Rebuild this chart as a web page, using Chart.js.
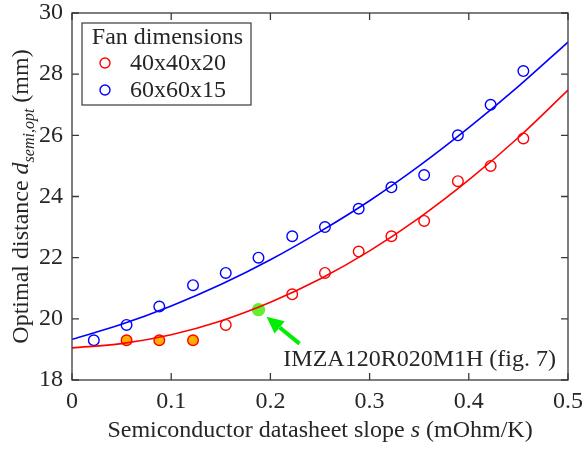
<!DOCTYPE html>
<html>
<head>
<meta charset="utf-8">
<script src="https://cdn.jsdelivr.net/npm/chart.js@4/dist/chart.umd.min.js"></script>
<style>
  html, body { margin: 0; padding: 0; background: #fff; }
  #wrap { width: 583px; height: 449px; }
</style>
</head>
<body>
<div id="wrap"><canvas id="chart"></canvas></div>
<script>
// measured points
const slope = [0.022, 0.055, 0.088, 0.122, 0.155, 0.188, 0.222, 0.255, 0.289, 0.322, 0.355, 0.389, 0.422, 0.455];
const fan60 = [19.3, 19.8, 20.4, 21.1, 21.5, 22.0, 22.7, 23.0, 23.6, 24.3, 24.7, 26.0, 27.0, 28.1];
const fan40 = [null, 19.3, 19.3, 19.3, 19.8, 20.3, 20.8, 21.5, 22.2, 22.7, 23.2, 24.5, 25.0, 25.9];
// 'o' open, 'f' filled orange, 'g' highlighted device
const fan40Kind = ['o', 'f', 'f', 'f', 'o', 'g', 'o', 'o', 'o', 'o', 'o', 'o', 'o', 'o'];

// fitted curves
const fitS = [0, 0.05, 0.1, 0.15, 0.2, 0.25, 0.3, 0.35, 0.4, 0.45, 0.5];
const fit60 = [19.33, 19.82, 20.42, 21.12, 21.93, 22.85, 23.86, 25.0, 26.25, 27.6, 29.05];
const fit40 = [19.05, 19.19, 19.48, 19.93, 20.54, 21.3, 22.22, 23.3, 24.54, 25.93, 27.48];

const legendTitle = 'Fan dimensions';
const seriesNames = ['40x40x20', '60x60x15'];
const highlightLabel = 'IMZA120R020M1H (fig. 7)';

const SERIF = '"Liberation Serif", "Times New Roman", serif';
const TXT = '#262626';
const FS = 24;

function pts(xs, ys) {
  return xs.map((x, i) => ({ x: x, y: ys[i] })).filter(p => p.y !== null);
}

const fan40Idx = slope.map((_, i) => i).filter(i => fan40[i] !== null);
const fan40Fill = fan40Idx.map(i => fan40Kind[i] === 'f' ? '#ffb000' : fan40Kind[i] === 'g' ? '#66ee33' : 'rgba(0,0,0,0)');
const fan40Border = fan40Idx.map(i => fan40Kind[i] === 'g' ? '#66ee33' : '#ff0000');
const fan40Radius = fan40Idx.map(i => fan40Kind[i] === 'g' ? 6 : 5.3);

const framePlugin = {
  id: 'frame',
  afterDraw(chart) {
    const ctx = chart.ctx;
    const a = chart.chartArea;
    const xs = chart.scales.x, ys = chart.scales.y;
    ctx.save();

    // box with inward ticks on all sides
    ctx.strokeStyle = '#3a3a3a';
    ctx.lineWidth = 1.3;
    ctx.strokeRect(a.left, a.top, a.right - a.left, a.bottom - a.top);
    const tl = 7;
    ctx.beginPath();
    xs.ticks.forEach(t => {
      const px = xs.getPixelForValue(t.value);
      ctx.moveTo(px, a.bottom); ctx.lineTo(px, a.bottom - tl);
      ctx.moveTo(px, a.top); ctx.lineTo(px, a.top + tl);
    });
    ys.ticks.forEach(t => {
      const py = ys.getPixelForValue(t.value);
      ctx.moveTo(a.left, py); ctx.lineTo(a.left + tl, py);
      ctx.moveTo(a.right, py); ctx.lineTo(a.right - tl, py);
    });
    ctx.stroke();

    // x title with italic s
    ctx.fillStyle = TXT;
    ctx.textBaseline = 'alphabetic';
    const parts = [
      ['Semiconductor datasheet slope ', 'normal'],
      ['s', 'italic'],
      [' (mOhm/K)', 'normal']
    ];
    let w = 0;
    parts.forEach(p => { ctx.font = p[1] + ' ' + FS + 'px ' + SERIF; w += ctx.measureText(p[0]).width; });
    let x0 = (a.left + a.right) / 2 - w / 2;
    const yT = a.bottom + 57;
    parts.forEach(p => {
      ctx.font = p[1] + ' ' + FS + 'px ' + SERIF;
      ctx.textAlign = 'left';
      ctx.fillText(p[0], x0, yT);
      x0 += ctx.measureText(p[0]).width;
    });

    // y title, rotated, with italic d and subscript
    ctx.save();
    ctx.translate(28, (a.top + a.bottom) / 2);
    ctx.rotate(-Math.PI / 2);
    const yparts = [
      ['Optimal distance ', 'normal 24px', 0],
      ['d', 'italic 24px', 0],
      ['semi,opt', 'italic 16px', 6],
      [' (mm)', 'normal 24px', 0]
    ];
    w = 0;
    yparts.forEach(p => { ctx.font = p[1] + ' ' + SERIF; w += ctx.measureText(p[0]).width; });
    x0 = -w / 2;
    yparts.forEach(p => {
      ctx.font = p[1] + ' ' + SERIF;
      ctx.textAlign = 'left';
      ctx.fillText(p[0], x0, p[2]);
      x0 += ctx.measureText(p[0]).width;
    });
    ctx.restore();

    // legend box
    const lx = a.left + 10, ly = a.top + 10, lw = 169, lh = 82;
    ctx.fillStyle = '#fff';
    ctx.fillRect(lx, ly, lw, lh);
    ctx.strokeStyle = '#3a3a3a';
    ctx.lineWidth = 1.2;
    ctx.strokeRect(lx, ly, lw, lh);
    ctx.fillStyle = TXT;
    ctx.font = FS + 'px ' + SERIF;
    ctx.textAlign = 'center';
    ctx.textBaseline = 'middle';
    ctx.fillText(legendTitle, lx + lw / 2 + 1, ly + 15);
    const legColors = ['#ff0000', '#0000ff'];
    seriesNames.forEach((name, i) => {
      const cy = ly + 40 + i * 27;
      ctx.beginPath();
      ctx.strokeStyle = legColors[i];
      ctx.lineWidth = 1.4;
      ctx.arc(lx + 23, cy, 5, 0, Math.PI * 2);
      ctx.stroke();
      ctx.fillStyle = TXT;
      ctx.textAlign = 'left';
      ctx.fillText(name, lx + 48, cy + 1);
    });

    // highlight annotation: arrow to the green point
    const gi = fan40Kind.indexOf('g');
    const gx = xs.getPixelForValue(slope[gi]);
    const gy = ys.getPixelForValue(fan40[gi]);
    const tipX = gx + 8, tipY = gy + 7;
    const tailX = gx + 41, tailY = gy + 34;
    const ang = Math.atan2(tipY - tailY, tipX - tailX);
    const hl = 17, hw = 8;
    const bx = tipX - hl * Math.cos(ang), by = tipY - hl * Math.sin(ang);
    ctx.strokeStyle = '#00ee00';
    ctx.fillStyle = '#00ee00';
    ctx.lineWidth = 4;
    ctx.beginPath();
    ctx.moveTo(tailX, tailY);
    ctx.lineTo(bx, by);
    ctx.stroke();
    ctx.beginPath();
    ctx.moveTo(tipX, tipY);
    ctx.lineTo(bx + hw * Math.sin(ang), by - hw * Math.cos(ang));
    ctx.lineTo(bx - hw * Math.sin(ang), by + hw * Math.cos(ang));
    ctx.closePath();
    ctx.fill();

    ctx.fillStyle = TXT;
    ctx.font = FS + 'px ' + SERIF;
    ctx.textAlign = 'right';
    ctx.textBaseline = 'alphabetic';
    ctx.fillText(highlightLabel, a.right - 12, a.bottom - 14);

    ctx.restore();
  }
};

new Chart(document.getElementById('chart'), {
  type: 'scatter',
  data: {
    datasets: [
      {
        type: 'line', label: 'fit ' + seriesNames[0], data: pts(fitS, fit40),
        borderColor: '#ff0000', borderWidth: 1.6, pointRadius: 0,
        cubicInterpolationMode: 'monotone', fill: false
      },
      {
        type: 'line', label: 'fit ' + seriesNames[1], data: pts(fitS, fit60),
        borderColor: '#0000ff', borderWidth: 1.6, pointRadius: 0,
        cubicInterpolationMode: 'monotone', fill: false
      },
      {
        label: seriesNames[0], data: pts(slope, fan40),
        borderColor: fan40Border, backgroundColor: fan40Fill,
        pointRadius: fan40Radius, pointBorderWidth: 1.4
      },
      {
        label: seriesNames[1], data: pts(slope, fan60),
        borderColor: '#0000ff', backgroundColor: 'rgba(0,0,0,0)',
        pointRadius: 5.3, pointBorderWidth: 1.4
      }
    ]
  },
  options: {
    responsive: true,
    maintainAspectRatio: false,
    animation: false,
    layout: { padding: { top: 13, right: 15, left: 0, bottom: 0 } },
    plugins: { legend: { display: false }, tooltip: { enabled: false } },
    scales: {
      x: {
        type: 'linear', min: 0, max: 0.5,
        grid: { display: false, drawTicks: false },
        border: { display: false },
        ticks: {
          stepSize: 0.1, padding: 7, color: TXT,
          font: { family: SERIF, size: FS },
          callback: v => v === 0 ? '0' : v.toFixed(1)
        },
        afterFit: s => { s.height = 69; s.paddingLeft = 0; s.paddingRight = 0; }
      },
      y: {
        min: 18, max: 30,
        grid: { display: false, drawTicks: false },
        border: { display: false },
        ticks: {
          stepSize: 2, padding: 9, color: TXT,
          font: { family: SERIF, size: FS }
        },
        afterFit: s => { s.width = 72; s.paddingTop = 0; s.paddingBottom = 0; }
      }
    }
  },
  plugins: [framePlugin]
});
</script>
</body>
</html>
